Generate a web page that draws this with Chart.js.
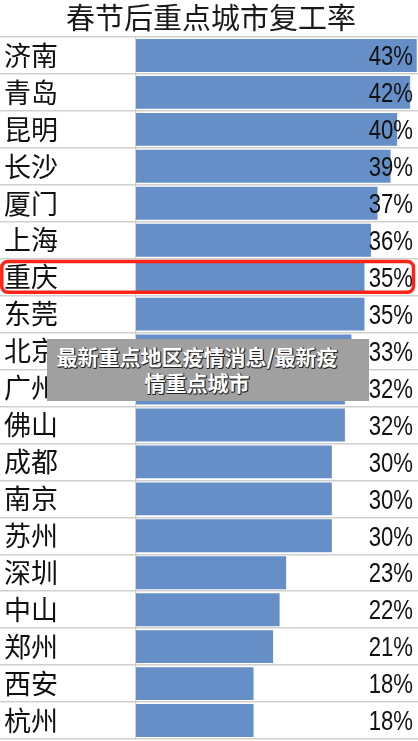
<!DOCTYPE html>
<html>
<head>
<meta charset="utf-8">
<script src="https://cdn.jsdelivr.net/npm/chart.js@4"></script>
<style>
  html, body { margin: 0; padding: 0; background: #fff; }
  #wrap { position: relative; width: 418px; height: 741px; overflow: hidden; }
  #overlay {
    position: absolute; left: 47px; top: 339px; width: 322px; height: 62px;
    background: #a0a0a0; box-sizing: border-box; padding: 4px 22px 0 0;
    color: #fff; font-family: "Noto Sans CJK SC", sans-serif; font-weight: bold;
    font-size: 21px; line-height: 26px; text-align: center;
    text-shadow: 1px 1px 0 #222, 1px 0 0 #222, 0 1px 0 #222;
    white-space: nowrap;
  }
</style>
</head>
<body>
<div id="wrap">
  <canvas id="c" width="418" height="741"></canvas>
  <div id="overlay">最新重点地区疫情消息/最新疫<br>情重点城市</div>
</div>
<script>
const titleText = "春节后重点城市复工率";
const cities = ["济南","青岛","昆明","长沙","厦门","上海","重庆","东莞","北京","广州","佛山","成都","南京","苏州","深圳","中山","郑州","西安","杭州"];
const rates = [43,42,40,39,37,36,35,35,33,32,32,30,30,30,23,22,21,18,18];
const highlightCity = "重庆";

const cjk = '"Noto Sans CJK SC", sans-serif';

const valueLabels = {
  id: 'valueLabels',
  afterDatasetsDraw(chart) {
    const ctx = chart.ctx;
    const meta = chart.getDatasetMeta(0);
    const right = chart.chartArea.right - 5;
    ctx.save();
    ctx.fillStyle = '#111';
    ctx.font = '28px "Liberation Sans", Arial, sans-serif';
    ctx.textAlign = 'right';
    ctx.textBaseline = 'middle';
    meta.data.forEach((bar, i) => {
      ctx.save();
      ctx.translate(right, bar.y + 2);
      ctx.scale(0.79, 1);
      ctx.fillText(rates[i] + '%', 0, 0);
      ctx.restore();
    });
    ctx.restore();
  }
};

const highlight = {
  id: 'highlight',
  afterDraw(chart) {
    const ys = chart.scales.y;
    const idx = cities.indexOf(highlightCity);
    if (idx < 0) return;
    const rowH = (ys.bottom - ys.top) / cities.length;
    const top = ys.top + idx * rowH + 2.8;
    const h = rowH - 6.2;
    const ctx = chart.ctx;
    ctx.save();
    ctx.strokeStyle = '#ff2418';
    ctx.lineWidth = 3.5;
    ctx.beginPath();
    ctx.roundRect(1.8, top, 411.7, h, 6);
    ctx.stroke();
    ctx.restore();
  }
};

new Chart(document.getElementById('c'), {
  type: 'bar',
  data: {
    labels: cities,
    datasets: [{
      data: rates,
      backgroundColor: '#658fc6',
      borderWidth: 0,
      categoryPercentage: 1,
      barPercentage: 0.89
    }]
  },
  options: {
    indexAxis: 'y',
    responsive: false,
    animation: false,
    devicePixelRatio: 1,
    layout: { padding: { left: 4, right: 0, top: 0, bottom: 2 } },
    plugins: {
      legend: { display: false },
      tooltip: { enabled: false },
      title: {
        display: true,
        text: titleText,
        color: '#1a1a1a',
        font: { family: cjk, size: 29, weight: 'normal', lineHeight: 1.2 },
        padding: { top: 1, bottom: 1.2 }
      }
    },
    scales: {
      x: { display: false, min: 0, max: 43.2 },
      y: {
        afterFit(scale) { scale.width = 132; },
        grid: {
          color: '#d0d0d0',
          lineWidth: 1.5,
          tickLength: 140,
          offset: true
        },
        border: { display: true, color: '#d0d0d0', width: 1.5 },
        ticks: {
          crossAlign: 'far',
          color: '#111',
          font: { family: cjk, size: 27, weight: 'normal', lineHeight: 0.05 },
          padding: 0
        }
      }
    }
  },
  plugins: [valueLabels, highlight]
});
</script>
</body>
</html>
